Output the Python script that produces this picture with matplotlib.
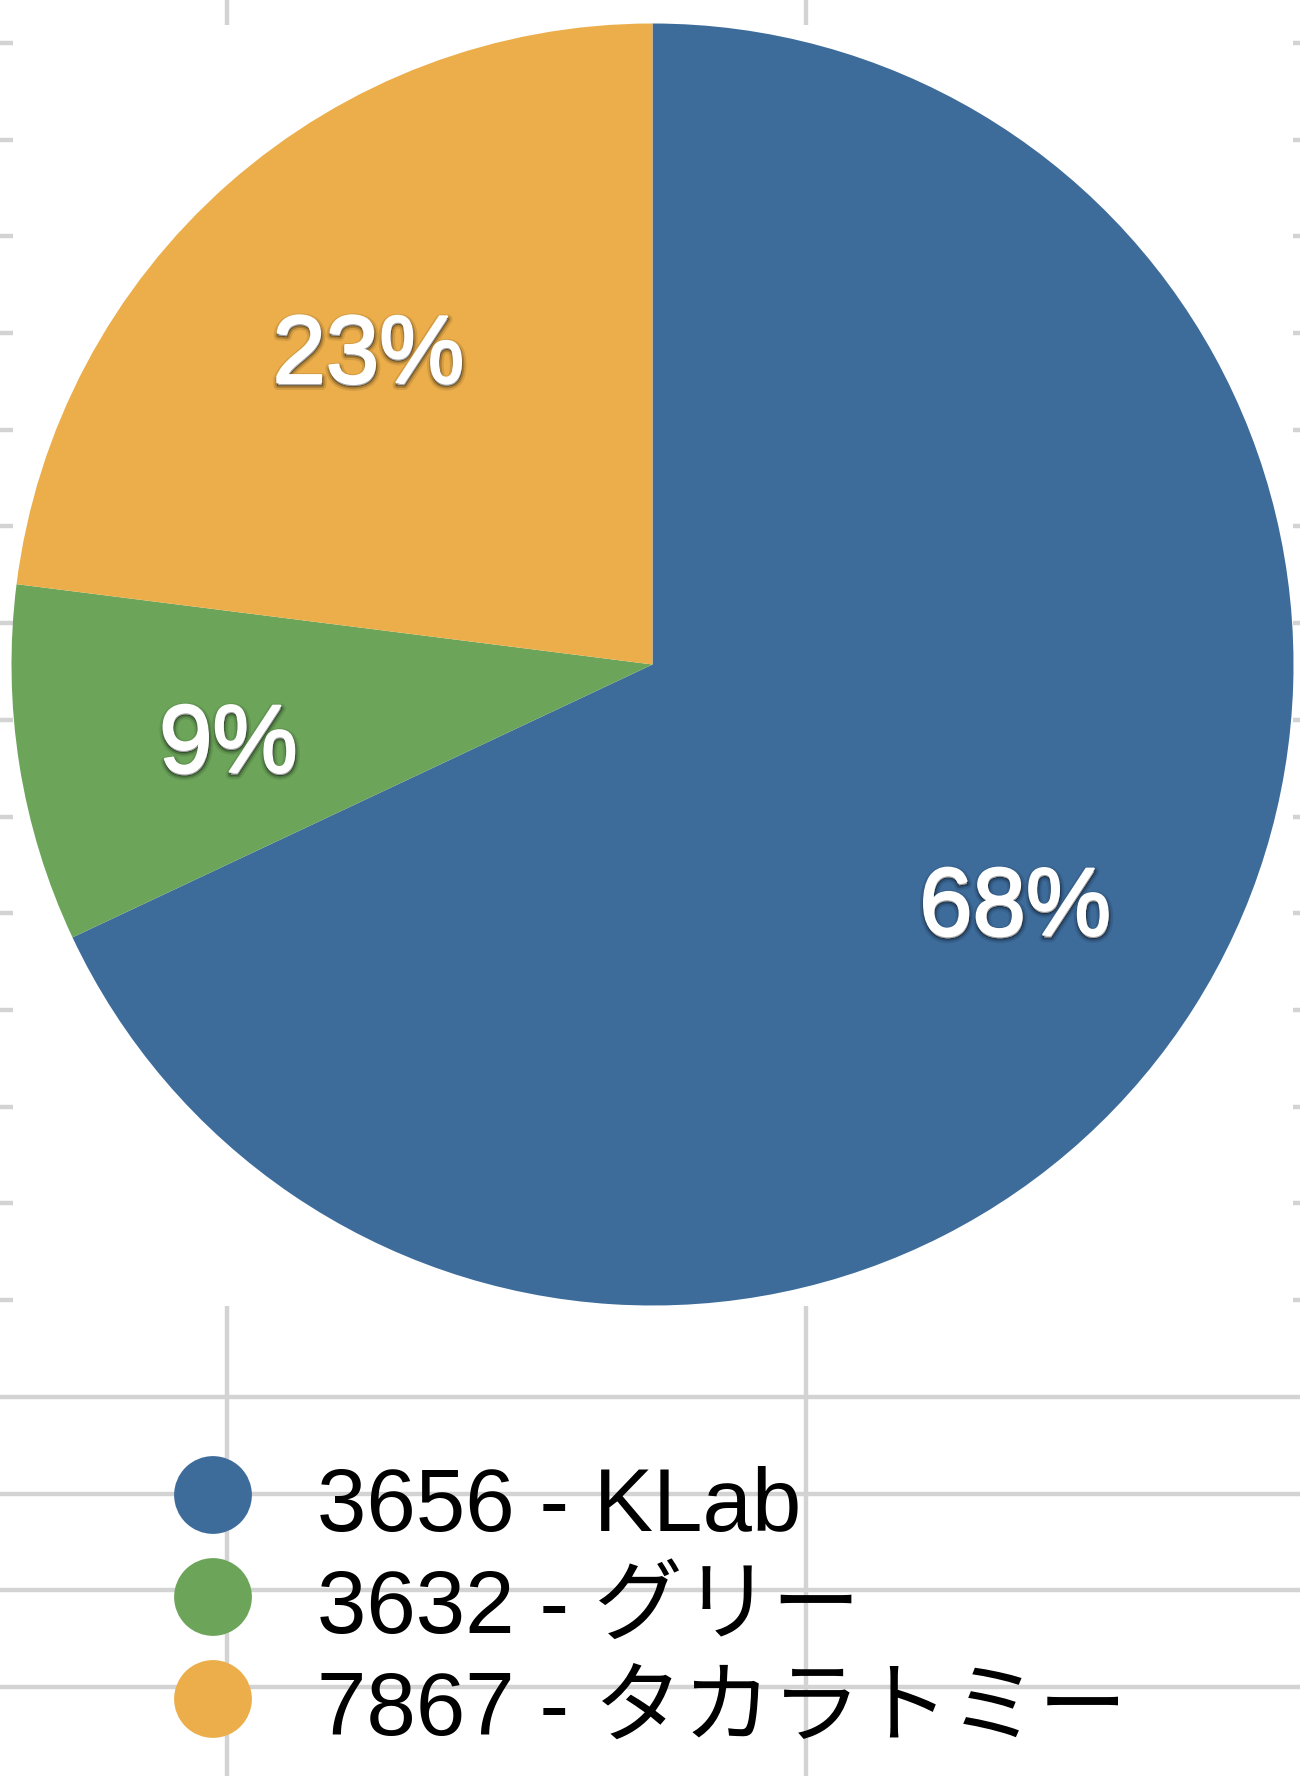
import numpy as np
import matplotlib
matplotlib.use('Agg')
import matplotlib.pyplot as plt
import matplotlib.patheffects as pe
from matplotlib.patches import Rectangle
from matplotlib.transforms import ScaledTranslation

plt.rcParams['font.family'] = ['Liberation Sans', 'Noto Sans CJK JP', 'DejaVu Sans']

# ------------------------------------------------------------
# Data
# ------------------------------------------------------------
LABELS = ['3656 - KLab', '3632 - グリー', '7867 - タカラトミー']
SHARES = [68, 9, 23]
COLORS = ['#3d6c9b', '#6ca55a', '#ecae4a']

W, H = 1300, 1776
fig = plt.figure(figsize=(W / 100, H / 100), dpi=100)

# --- spreadsheet grid behind the chart (pixel coordinates) ---
bg = fig.add_axes([0, 0, 1, 1])
bg.set_xlim(0, W)
bg.set_ylim(H, 0)
bg.axis('off')

GRID = '#d3d3d3'
for y in 43 + 96.7 * np.arange(18):
    bg.axhline(y, color=GRID, lw=3.2, zorder=0)
for x in [227, 806]:
    bg.axvline(x, color=GRID, lw=3.2, zorder=0)

# white chart area hides the grid
bg.add_patch(Rectangle((13, 25), 1280, 1281, facecolor='white',
                       edgecolor='none', zorder=1))

# --- legend (drawn by hand, grid shows through) ---
for i, (lab, col) in enumerate(zip(LABELS, COLORS)):
    yc = 1495 + 102 * i
    bg.scatter([213], [yc], s=56 ** 2, color=col, edgecolors='none', zorder=3)
    bg.text(317, yc + 36, lab, fontsize=64, color='black',
            va='baseline', ha='left', zorder=3)

# --- pie ---
cx, cy, r = 652.5, 664.5, 641
ax = fig.add_axes([(cx - r) / W, (H - cy - r) / H, 2 * r / W, 2 * r / H])
ax.set_zorder(2)
wedges, texts, autotexts = ax.pie(
    SHARES, colors=COLORS, startangle=90, counterclock=False,
    autopct=lambda p: f'{p:.0f}%', pctdistance=0.67, radius=1,
    wedgeprops={'linewidth': 0, 'edgecolor': 'none'},
    textprops={'color': 'white', 'fontsize': 69, 'fontweight': 'normal'})

# nudge labels down a little and give them a soft drop shadow
shift = ScaledTranslation(0, -15 / 100, fig.dpi_scale_trans)
for t in autotexts:
    t.set_transform(ax.transData + shift)
    t.set_path_effects([
        pe.Stroke(offset=(0.5, -2), linewidth=7, foreground=(0, 0, 0, 0.10)),
        pe.Stroke(offset=(0.5, -2), linewidth=4, foreground=(0, 0, 0, 0.20)),
        pe.Stroke(offset=(0.5, -2), linewidth=1.5, foreground=(0, 0, 0, 0.35)),
        pe.Stroke(linewidth=1.6, foreground='white'),
        pe.Normal()])
ax.set_xlim(-1, 1)
ax.set_ylim(-1, 1)
ax.axis('off')

fig.savefig('out.png', dpi=100)
plt.close(fig)
